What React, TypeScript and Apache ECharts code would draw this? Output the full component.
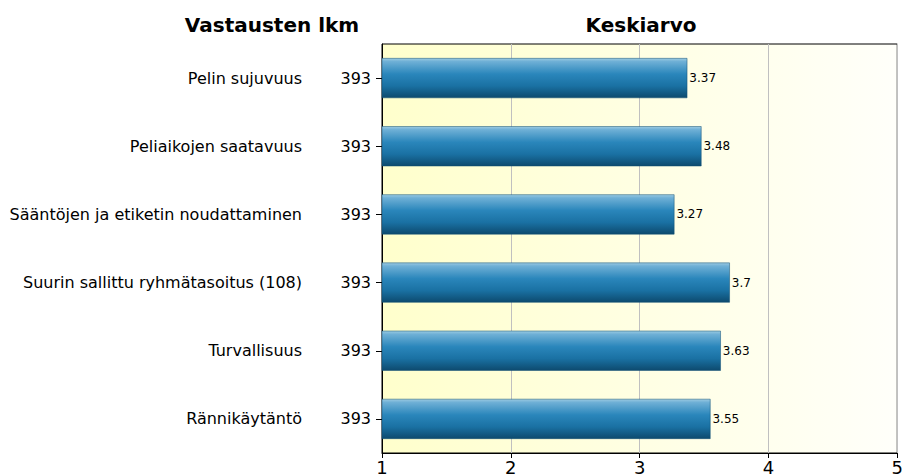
import React, { useEffect, useRef } from "react";
import * as echarts from "echarts";

const categories = [
  "Pelin sujuvuus",
  "Peliaikojen saatavuus",
  "Sääntöjen ja etiketin noudattaminen",
  "Suurin sallittu ryhmätasoitus (108)",
  "Turvallisuus",
  "Rännikäytäntö",
];
const counts = ["393", "393", "393", "393", "393", "393"];
const means = [3.37, 3.48, 3.27, 3.7, 3.63, 3.55];
const xTicks = [1, 2, 3, 4, 5];

const FONT = "'DejaVu Sans', sans-serif";

export default function App() {
  const ref = useRef<HTMLDivElement>(null);
  useEffect(() => {
    if (!ref.current) return;
    const chart = echarts.init(ref.current, undefined, { renderer: "svg" });
    const barGradient = new echarts.graphic.LinearGradient(0, 0, 0, 1, [
      { offset: 0, color: "#9ccbe2" },
      { offset: 0.08, color: "#6fb0d6" },
      { offset: 0.4, color: "#2a86bb" },
      { offset: 0.7, color: "#1a71a3" },
      { offset: 1, color: "#0d4a6e" },
    ]);
    const bgGradient = new echarts.graphic.LinearGradient(0, 0, 1, 0, [
      { offset: 0, color: "#ffffcc" },
      { offset: 1, color: "#fffffa" },
    ]);
    chart.setOption({
      animation: false,
      textStyle: { fontFamily: FONT },
      graphic: [
        {
          type: "text",
          x: 272,
          y: 25,
          style: {
            text: "Vastausten lkm",
            font: `bold 20px ${FONT}`,
            fill: "#000",
            textAlign: "center",
            textVerticalAlign: "middle",
          },
        },
        {
          type: "text",
          x: 641,
          y: 25,
          style: {
            text: "Keskiarvo",
            font: `bold 20px ${FONT}`,
            fill: "#000",
            textAlign: "center",
            textVerticalAlign: "middle",
          },
        },
      ],
      grid: {
        left: 382,
        right: 4,
        top: 44,
        bottom: 23,
        show: true,
        backgroundColor: bgGradient,
        borderColor: "#000",
        borderWidth: 1,
      },
      xAxis: {
        type: "value",
        min: 1,
        max: 5,
        interval: 1,
        data: xTicks,
        axisLine: { show: true, lineStyle: { color: "#000" } },
        axisTick: { show: true, length: 5, lineStyle: { color: "#000" } },
        axisLabel: {
          color: "#000",
          fontSize: 18,
          margin: 5,
          fontFamily: FONT,
        },
        splitLine: { show: true, lineStyle: { color: "#c0c0c0", width: 1 } },
      },
      yAxis: [
        {
          type: "category",
          data: counts,
          inverse: true,
          position: "left",
          axisLine: { show: true, lineStyle: { color: "#000" } },
          axisTick: {
            show: true,
            alignWithLabel: true,
            length: 6,
            lineStyle: { color: "#000" },
          },
          axisLabel: { color: "#000", fontSize: 16, margin: 11, fontFamily: FONT },
        },
        {
          type: "category",
          data: categories,
          inverse: true,
          position: "left",
          offset: 0,
          axisLine: { show: false },
          axisTick: { show: false },
          axisLabel: { color: "#000", fontSize: 16, margin: 80, fontFamily: FONT },
        },
      ],
      series: [
        {
          type: "bar",
          data: means,
          yAxisIndex: 0,
          barWidth: 40,
          itemStyle: {
            color: barGradient,
            borderColor: "#0e4c72",
            borderWidth: 0.5,
          },
          label: {
            show: true,
            position: "right",
            distance: 2,
            color: "#000",
            fontSize: 12,
            fontFamily: FONT,
          },
        },
      ],
    });
    return () => chart.dispose();
  }, []);
  return (
    <div
      ref={ref}
      style={{ position: "fixed", left: 0, top: 0, width: 906, height: 476, background: "#fff" }}
    />
  );
}
